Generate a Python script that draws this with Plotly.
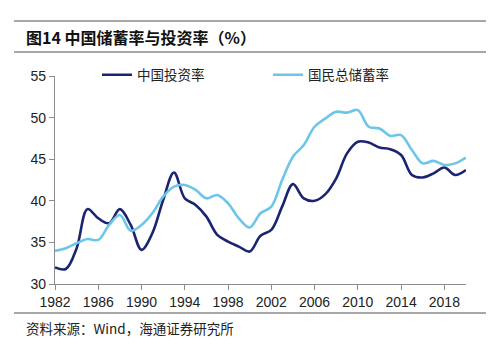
import plotly.graph_objects as go

years = list(range(1982, 2021))
invest = [32.0, 31.8, 34.3, 39.0, 37.9, 37.3, 39.0, 37.1, 34.1, 36.1, 40.1, 43.4, 40.3,
          39.5, 38.1, 35.9, 35.1, 34.5, 33.9, 35.8, 36.5, 39.3, 42.0, 40.3, 40.0, 40.8,
          42.7, 45.7, 47.1, 47.0, 46.4, 46.2, 45.5, 43.1, 42.8, 43.3, 44.0, 43.1, 43.7]
saving = [34.0, 34.3, 34.9, 35.4, 35.3, 37.1, 38.3, 36.4, 37.1, 38.5, 40.5, 41.7, 41.9,
          41.3, 40.3, 40.7, 39.7, 37.9, 36.8, 38.5, 39.3, 42.5, 45.3, 46.7, 48.9, 49.9,
          50.7, 50.6, 50.9, 48.9, 48.7, 47.8, 47.9, 46.1, 44.5, 44.8, 44.3, 44.5, 45.2]
xticks = [1982, 1986, 1990, 1994, 1998, 2002, 2006, 2010, 2014, 2018]
yticks = [30, 35, 40, 45, 50, 55]
name_inv = "中国投资率"
name_sav = "国民总储蓄率"
title = "<b>图14 中国储蓄率与投资率（%）</b>"
source = "资料来源：Wind，海通证券研究所"

OFF = 8  # default body margin of the html page
W, H = 500 - OFF, 356 - OFF
# plot area in window coordinates
PL, PR, PT, PB = 55, 466, 76, 284
L, R, T, B = PL - OFF, W - (PR - OFF), PT - OFF, H - (PB - OFF)
pw, ph = W - L - R, H - T - B

def px(x):
    return (x - OFF - L) / pw

def py(y):
    return (H - B - (y - OFF)) / ph

fig = go.Figure()
fig.add_trace(go.Scatter(x=years, y=invest, mode="lines", name=name_inv,
                         line=dict(color="#1b2470", width=2.6, shape="spline", smoothing=1.0),
                         legend="legend"))
fig.add_trace(go.Scatter(x=years, y=saving, mode="lines", name=name_sav,
                         line=dict(color="#6cc6e8", width=2.6, shape="spline", smoothing=1.0),
                         legend="legend2"))

font_cjk = "Noto Sans CJK SC, Liberation Sans, sans-serif"
legend_common = dict(orientation="h", yanchor="middle", xanchor="left",
                     font=dict(family=font_cjk, size=13.5, color="#222"),
                     bgcolor="rgba(0,0,0,0)", borderwidth=0, itemwidth=30)

fig.update_layout(
    width=W, height=H,
    margin=dict(l=L, r=R, t=T, b=B),
    paper_bgcolor="white", plot_bgcolor="white",
    showlegend=True,
    legend=dict(x=px(97), y=py(75), **legend_common),
    legend2=dict(x=px(268), y=py(75), **legend_common),
    xaxis=dict(range=[1982, 2020], tickvals=xticks, showgrid=False, zeroline=False,
               showline=True, linecolor="#8c8c8c", linewidth=1.2,
               ticks="outside", ticklen=5, tickcolor="#8c8c8c",
               tickfont=dict(family="Liberation Sans, Arial, sans-serif", size=14, color="#222")),
    yaxis=dict(range=[30, 55], tickvals=yticks, showgrid=False, zeroline=False,
               showline=True, linecolor="#8c8c8c", linewidth=1.2,
               ticks="outside", ticklen=5, tickcolor="#8c8c8c",
               tickfont=dict(family="Liberation Sans, Arial, sans-serif", size=14, color="#222")),
)

for yy in (21, 52, 313):
    fig.add_shape(type="line", xref="paper", yref="paper",
                  x0=px(14), x1=px(486), y0=py(yy), y1=py(yy),
                  line=dict(color="#8a8a8a", width=1.5))

fig.add_annotation(text=title, xref="paper", yref="paper", x=px(24), y=py(37),
                   xanchor="left", yanchor="middle", showarrow=False,
                   font=dict(family=font_cjk, size=16, color="#111"))
fig.add_annotation(text=source, xref="paper", yref="paper", x=px(24), y=py(328),
                   xanchor="left", yanchor="middle", showarrow=False,
                   font=dict(family=font_cjk, size=13.5, color="#222"))

fig.write_html("out.html")
